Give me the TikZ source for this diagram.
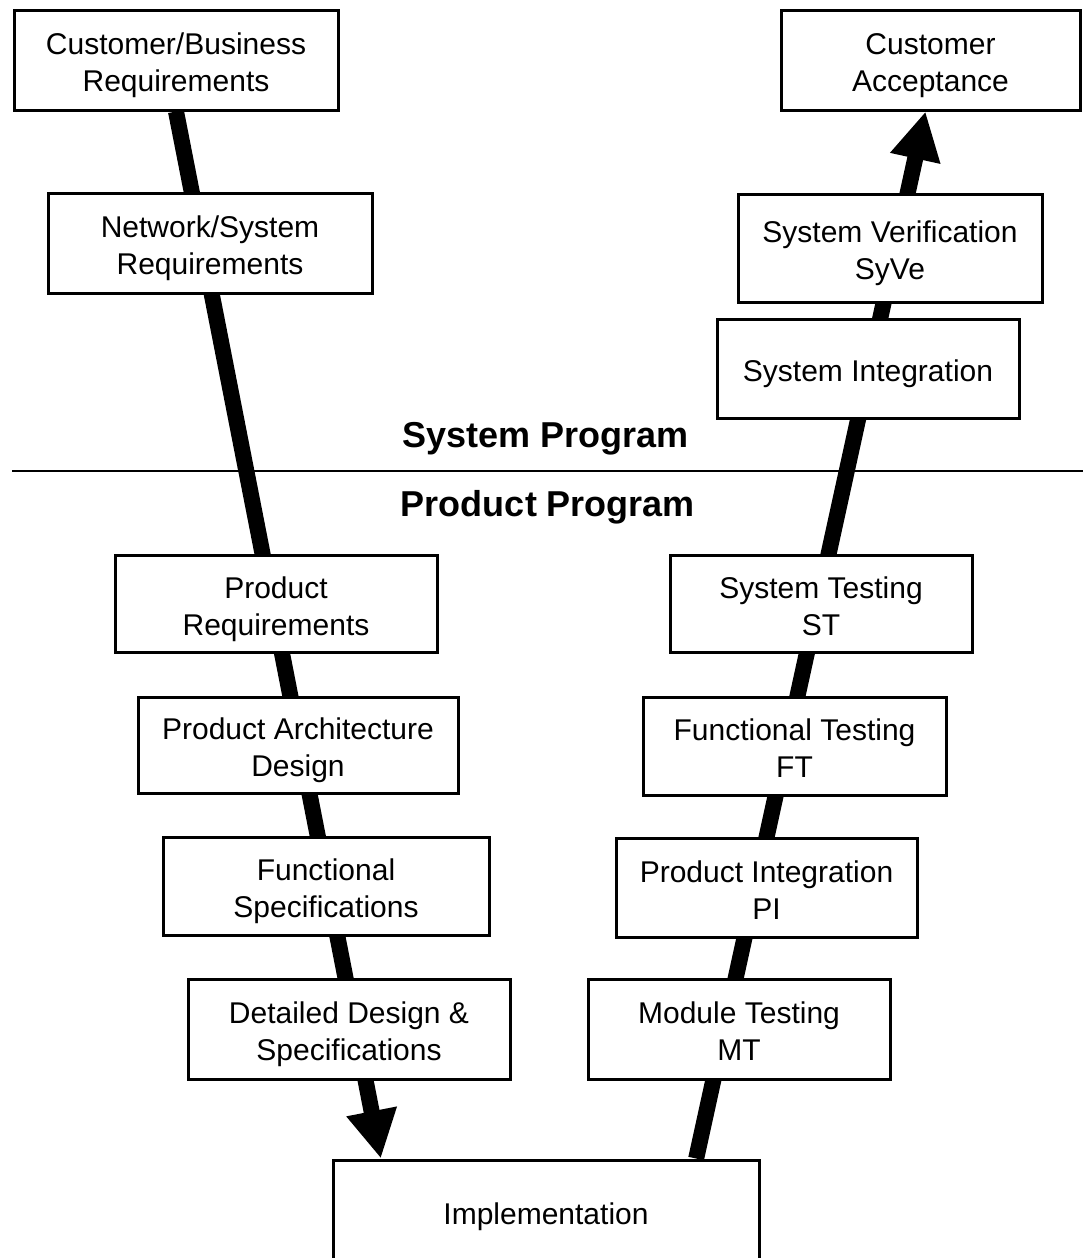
\documentclass[tikz,border=0pt]{standalone}
\usepackage{fontspec}
\setmainfont{Liberation Sans}
\usetikzlibrary{arrows.meta,calc}
\pgfdeclarelayer{bg}
\pgfsetlayers{bg,main}
% struts that fix the vertical placement of box text
\newcommand\boxtopstrut{\rule{0pt}{34pt}}
\newcommand\boxbotstrut{\rule[-8pt]{0pt}{8pt}}
\begin{document}
\begin{tikzpicture}[x=1pt,y=-1pt,
  box/.style={draw, line width=3pt, fill=white, align=center, inner sep=0pt,
    font=\fontsize{30}{37}\selectfont},
  flow/.style={line width=16pt, -{Triangle[length=48pt,width=48pt]}},
  phase/.style={font=\fontsize{36}{42}\selectfont\bfseries, anchor=base}]
\clip (0,0) rectangle (1083,1258);

% design side
\node[box, minimum width=324pt, minimum height=100pt] (cbr) at (176,60) {\boxtopstrut Customer/Business\\Requirements\boxbotstrut};
\node[box, minimum width=324pt, minimum height=100pt] (nsr) at (210,243) {\boxtopstrut Network/System\\Requirements\boxbotstrut};
\node[box, minimum width=322pt, minimum height=97pt] (pr) at (276,603.5) {\boxtopstrut Product\\Requirements\boxbotstrut};
\node[box, minimum width=320pt, minimum height=96pt] (pad) at (298,745) {\boxtopstrut Product Architecture\\Design\boxbotstrut};
\node[box, minimum width=326pt, minimum height=98pt] (fs) at (326,886) {\boxtopstrut Functional\\Specifications\boxbotstrut};
\node[box, minimum width=322pt, minimum height=100pt] (dds) at (349,1029) {\boxtopstrut Detailed Design \&\\Specifications\boxbotstrut};

% bottom (runs off the lower edge)
\node[box, minimum width=426pt, minimum height=102pt] (impl) at (546,1211) {\boxtopstrut Implementation\boxbotstrut};

% test side
\node[box, minimum width=299pt, minimum height=100pt] (ca) at (930.5,60) {\boxtopstrut Customer\\Acceptance\boxbotstrut};
\node[box, minimum width=304pt, minimum height=108pt] (syve) at (890,248) {\boxtopstrut System Verification\\SyVe\boxbotstrut};
\node[box, minimum width=302pt, minimum height=99pt] (si) at (868,368.5) {\boxtopstrut System Integration\boxbotstrut};
\node[box, minimum width=302pt, minimum height=97pt] (st) at (821,603.5) {\boxtopstrut System Testing\\ST\boxbotstrut};
\node[box, minimum width=303pt, minimum height=98pt] (ft) at (794.5,746) {\boxtopstrut Functional Testing\\FT\boxbotstrut};
\node[box, minimum width=301pt, minimum height=99pt] (pi) at (766.5,887.5) {\boxtopstrut Product Integration\\PI\boxbotstrut};
\node[box, minimum width=302pt, minimum height=100pt] (mt) at (739,1029) {\boxtopstrut Module Testing\\MT\boxbotstrut};

% program boundary
\coordinate (lineL) at (12,471);
\coordinate (lineR) at (1083,471);
\draw[line width=2.5pt] (lineL) -- (lineR);
\node[phase] (sysprog) at (546,447) {System Program};
\node[phase] (prodprog) at (548,516) {Product Program};

% the two flow arrows, behind the boxes
\coordinate (downEnd) at ($(impl.north west)!0.115!(impl.north east)$);
\coordinate (upStart) at ($(impl.north west)!0.85!(impl.north east)$);
\coordinate (upEnd) at ($(ca.south)+(-5,0)$);
\begin{pgfonlayer}{bg}
\fill[white] (0,0) rectangle (1083,1258);
\draw[flow] (cbr.south) -- (downEnd);
\draw[flow] (upStart) -- (upEnd);
\end{pgfonlayer}
\end{tikzpicture}
\end{document}
